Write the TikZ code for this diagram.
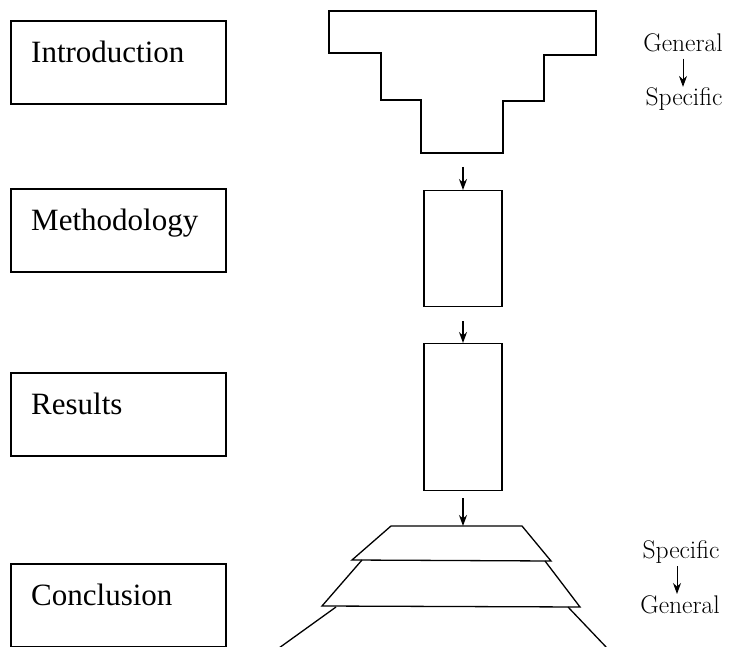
\documentclass[tikz,border=0pt]{standalone}
\usepackage{fontspec}
\setmainfont{Liberation Serif}
\usepackage{tikz}
\usetikzlibrary{arrows.meta}
\tikzstyle{Box}=[rectangle, minimum width=215, minimum height=83, anchor=north west, draw=black, line width=1.6]
\tikzstyle{Name}=[anchor=base west, inner sep=0, font=\fontsize{31}{37}\selectfont]
\tikzstyle{Step}=[rectangle, minimum width=78, anchor=north, draw=black, line width=1.3]
\tikzstyle{Scope}=[inner sep=1, font=\fontfamily{lmr}\fontsize{25.5}{30}\selectfont]
\tikzstyle{Flow}=[-{Stealth[length=11pt,width=8pt]}, line width=1.3]

\begin{document}
\begin{tikzpicture}[x=1pt, y=-1pt]
    \useasboundingbox (0,0) rectangle (733,647);

    % left column
    \path
    (10,20) node[Box] (intro) {}
    (10,188) node[Box] (meth) {}
    (10,372) node[Box] (res) {}
    (10,563) node[Box] (conc) {};

    \draw ([xshift=21]intro.west) node[Name] {Introduction};
    \draw ([xshift=21]meth.west) node[Name] {Methodology};
    \draw ([xshift=21]res.west) node[Name] {Results};
    \draw ([xshift=21]conc.west) node[Name] {Conclusion};

    % middle column
    \draw[line width=1.3] (329,11) -- (596,11) -- (596,55) -- (544,55) -- (544,101) -- (503,101)
        -- (503,153) -- (421,153) -- (421,100) -- (381,100) -- (381,53) -- (329,53) -- cycle;
    \coordinate (funnel) at (463,153);

    \path
    (463,190) node[Step, minimum height=116] (mbox) {}
    (463,343) node[Step, minimum height=147] (rbox) {};

    \draw[line width=1.3] (391,526) -- (522,526) -- (551,561) -- (352,560) -- cycle;
    \draw[line width=1.3] (362,560) -- (322,606) -- (580,607) -- (545,561);
    \draw[line width=1.3] (336,607) -- (279,648);
    \draw[line width=1.3] (568,607) -- (607,648);
    \coordinate (cap) at (465,526);

    \draw[Flow, shorten <=14] (funnel) -- (mbox.north);
    \draw[Flow, shorten <=14] (mbox.south) -- (rbox.north);
    \draw[Flow, shorten <=7] (rbox.south) -- (rbox.south |- cap);

    % right column
    \path
    (683,52) node[Scope, anchor=base] (gen1) {General}
    (684,106) node[Scope, anchor=base] (spec1) {Specific}
    (681,558) node[Scope, anchor=base] (spec2) {Specific}
    (680,613) node[Scope, anchor=base] (gen2) {General};

    \draw[Flow, line width=1, shorten <=5] (gen1) -- (gen1 |- spec1.north);
    \draw[Flow, line width=1, shorten <=2] (spec2.south -| 677,0) -- (gen2.north -| 677,0);
\end{tikzpicture}
\end{document}
